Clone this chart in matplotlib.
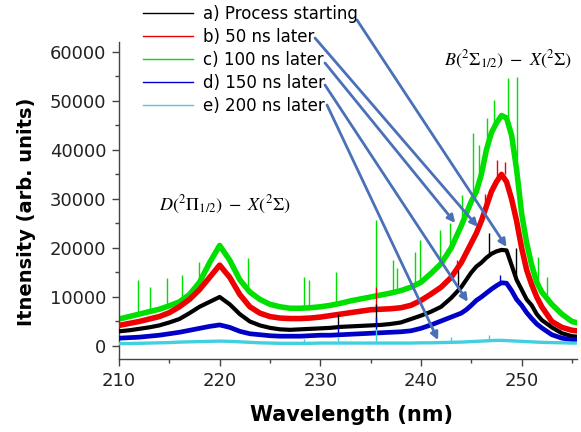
import numpy as np
import matplotlib
matplotlib.use("Agg")
import matplotlib.pyplot as plt
from matplotlib.lines import Line2D

plt.rcParams['mathtext.fontset'] = 'stix'
plt.rcParams['font.family'] = ['DejaVu Sans']

# ---------------- data ----------------
wavelength = [210, 211, 212, 213, 214, 215, 216, 217, 218, 219, 220, 221, 222, 223, 224,
              225, 226, 227, 228, 229, 230, 231, 232, 233, 234, 235, 236, 237, 238, 239,
              240, 241, 242, 243, 244,
              244.5, 245, 245.5, 246, 246.5, 247, 247.5, 248, 248.5, 249, 249.5, 250,
              250.5, 251, 251.5,
              252, 253, 254, 255, 256]

a_start = [3000, 3200, 3500, 3800, 4200, 4800, 5500, 6700, 8000, 9000, 10000, 8500, 6500, 5000, 4200,
           3700, 3400, 3300, 3400, 3500, 3600, 3700, 3900, 4000, 4100, 4200, 4300, 4500, 4800, 5500,
           6200, 7000, 8000, 9800, 12000,
           13500, 15000, 16200, 17000, 18000, 18800, 19300, 19600, 19500, 16500, 13500, 11500,
           9500, 8300, 6500,
           5300, 3800, 2600, 2000, 1800]

b_50ns = [4200, 4600, 5000, 5500, 6000, 6800, 8000, 9500, 11500, 14000, 16500, 14000, 10500, 8000, 6700,
          6000, 5700, 5600, 5600, 5700, 5900, 6200, 6500, 6800, 7100, 7400, 7500, 7600, 7800, 8300,
          9300, 10600, 12000, 14000, 17000,
          19000, 21000, 23000, 25500, 28500, 31500, 33500, 35000, 33500, 30000, 25500, 20000,
          15500, 12500, 10000,
          8000, 5000, 3800, 3200, 3000]

c_100ns = [5500, 6000, 6500, 7000, 7500, 8200, 9000, 10500, 13000, 17000, 20500, 17500, 13500, 11000, 9500,
           8500, 8000, 7700, 7700, 7800, 8000, 8300, 8700, 9200, 9600, 10000, 10400, 10800, 11300, 12000,
           13000, 14800, 16800, 20000, 24500,
           27000, 29500, 31500, 35000, 40000, 43500, 45500, 47000, 46500, 43000, 36000, 27000,
           21000, 16500, 13000,
           11000, 8500, 6500, 5000, 4500]

d_150ns = [1600, 1700, 1800, 2000, 2200, 2500, 2800, 3200, 3600, 4000, 4300, 3800, 3000, 2500, 2300,
           2100, 2000, 2000, 2000, 2100, 2200, 2200, 2300, 2400, 2500, 2600, 2700, 2800, 2900, 3100,
           3600, 4300, 5100, 5900, 6700,
           7400, 8300, 9300, 10000, 10800, 11600, 12300, 12900, 12800, 11300, 9500, 8300,
           6800, 5600, 4500,
           3700, 2300, 1600, 1300, 1200]

e_200ns = [500, 500, 550, 600, 650, 700, 800, 850, 900, 950, 1000, 950, 850, 750, 650,
           600, 550, 550, 550, 550, 600, 600, 600, 600, 600, 600, 600, 600, 600, 600,
           650, 650, 700, 750, 800,
           850, 900, 950, 1000, 1050, 1100, 1150, 1150, 1100, 1050, 1000, 950,
           900, 850, 800,
           750, 700, 650, 600, 600]

# narrow emission spikes: position, bottom, top
c_spike_x = [211.9, 213.1, 214.8, 216.3, 217.9, 222.8, 228.4, 228.9, 231.6, 235.5, 237.2, 237.6,
             239.4, 239.9, 241.9, 242.9, 244.1, 245.2, 245.8, 246.6, 247.3, 248.6, 249.5, 251.6, 252.5]
c_spike_lo = [6300, 7000, 8000, 9200, 12500, 11500, 7700, 7800, 8500, 10000, 10800, 11000,
              12200, 13000, 16700, 19700, 25000, 29500, 33000, 40000, 44000, 46500, 38000, 13000, 10500]
c_spike_hi = [13500, 12000, 13800, 14500, 17100, 18000, 14100, 13500, 15100, 25700, 17500, 16000,
              19200, 21600, 23700, 25100, 30800, 43500, 41000, 46500, 50200, 54700, 54900, 18100, 14100]

b_spike_x = [235.5, 243.6, 246.4, 247.6, 248.3]
b_spike_lo = [7400, 15500, 27500, 33500, 35000]
b_spike_hi = [12000, 17500, 31000, 38000, 37500]

a_spike_x = [231.8, 235.5, 243.7, 246.8, 249.4]
a_spike_lo = [3800, 4200, 11500, 18500, 13000]
a_spike_hi = [6500, 8500, 15500, 23000, 20000]

d_spike_x = [231.8, 235.5, 247.9]
d_spike_lo = [2300, 2600, 12900]
d_spike_hi = [4000, 6000, 14500]

e_spike_x = [228.4, 231.8, 235.5, 243.0, 246.8]
e_spike_lo = [550, 600, 600, 750, 1100]
e_spike_hi = [1500, 1800, 3500, 1800, 2300]

labels = ["a) Process starting", "b) 50 ns later", "c) 100 ns later",
          "d) 150 ns later", "e) 200 ns later"]
colors = ["#000000", "#ee0000", "#00e000", "#0000c8", "#40d0e0"]

# arrow targets (data) for each legend entry
arrow_tx = [248.5, 245.65, 243.4, 244.65, 241.7]
arrow_ty = [20200, 24300, 25100, 9000, 1200]

# ---------------- figure ----------------
W, H = 581, 432
fig = plt.figure(figsize=(W / 100, H / 100), dpi=100)
ax = fig.add_axes([119 / W, 1 - 359 / H, (577 - 119) / W, (359 - 42) / H])

wl = np.array(wavelength)
series = [a_start, b_50ns, c_100ns, d_150ns, e_200ns]
spikes = [(a_spike_x, a_spike_lo, a_spike_hi),
          (b_spike_x, b_spike_lo, b_spike_hi),
          (c_spike_x, c_spike_lo, c_spike_hi),
          (d_spike_x, d_spike_lo, d_spike_hi),
          (e_spike_x, e_spike_lo, e_spike_hi)]
lws = [3.0, 4.0, 4.0, 3.4, 2.4]
zord = [4, 3, 2, 5, 6]
for s, (sx, slo, shi), c, lw, z in zip(series, spikes, colors, lws, zord):
    ax.plot(wl, s, color=c, lw=lw, zorder=z, solid_joinstyle='round')
    ax.vlines(sx, slo, shi, color=c, lw=1.0, zorder=z)

ax.set_xlim(210, 255.5)
ax.set_ylim(-2650, 62000)
ax.set_xticks([210, 220, 230, 240, 250])
ax.set_xticks([215, 225, 235, 245, 255], minor=True)
ax.set_yticks([0, 10000, 20000, 30000, 40000, 50000, 60000])
ax.set_yticks([5000, 15000, 25000, 35000, 45000, 55000], minor=True)
for sp in ['top', 'right']:
    ax.spines[sp].set_visible(False)
for sp in ['left', 'bottom']:
    ax.spines[sp].set_color('#444444')
    ax.spines[sp].set_linewidth(1.0)
ax.tick_params(which='major', length=5, width=1, color='#444444',
               labelsize=13, labelcolor='#222222', pad=4)
ax.tick_params(which='minor', length=3, width=1, color='#444444')

# axis labels
fig.text(352 / W, 1 - 415 / H, "Wavelength (nm)", fontsize=15, fontweight='bold',
         ha='center', va='center')
fig.text(27 / W, 1 - 212 / H, "Itnensity (arb. units)", fontsize=14, fontweight='bold',
         ha='center', va='center', rotation=90)

# band annotations
ax.text(220.5, 28800, r"$D(^2\Pi_{1/2})\ -\ X(^2\Sigma)$", fontsize=13,
        ha='center', va='center')
ax.text(248.6, 58300, r"$B(^2\Sigma_{1/2})\ -\ X(^2\Sigma)$", fontsize=13,
        ha='center', va='center')

# legend
handles = [Line2D([], [], color=c, lw=1.0) for c in colors]
fig.legend(handles, labels, loc='upper left', bbox_to_anchor=(143 / W, 1 - 5 / H),
           frameon=False, fontsize=12, handlelength=3.0, handletextpad=0.6,
           labelspacing=0.3, borderpad=0, borderaxespad=0)

# arrows from legend text to spectra
arrow_start = [(357, 20), (315, 38), (325, 63), (325, 85), (327, 105)]
for (sxp, syp), tx, ty in zip(arrow_start, arrow_tx, arrow_ty):
    ax.annotate("", xy=(tx, ty), xycoords='data',
                xytext=(sxp / W, 1 - syp / H), textcoords='figure fraction',
                arrowprops=dict(arrowstyle='-|>', color='#4a70b8', lw=2.0,
                                mutation_scale=11, shrinkA=0, shrinkB=0),
                zorder=10, annotation_clip=False)

fig.savefig("out.png", dpi=100)
